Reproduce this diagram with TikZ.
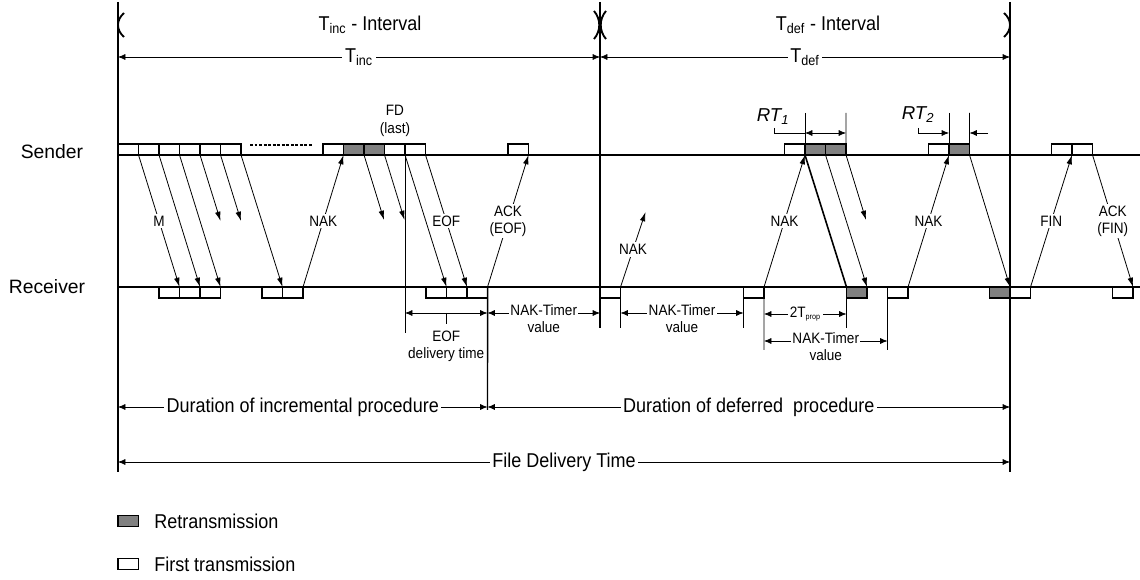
\documentclass[tikz,border=0pt]{standalone}
\usepackage{fontspec}
\setmainfont{Liberation Sans}
\newfontfamily\narrowsans{Liberation Sans}[FakeStretch=0.9]
\usetikzlibrary{arrows.meta,calc}
\definecolor{rtgray}{RGB}{128,128,128}
\begin{document}
\begin{tikzpicture}[x=0.75pt,y=-0.75pt,
  pkt/.style={draw,line width=0.9pt,minimum width=15.4pt,minimum height=8.2pt,inner sep=0pt,outer sep=0pt,fill=white},
  rpkt/.style={pkt,fill=rtgray},
  msg/.style={line width=0.6pt,-{Latex[length=7pt,width=4.2pt]}},
  lbl/.style={font=\narrowsans\fontsize{11.3}{13}\selectfont,fill=white,inner sep=1.5pt,align=center},
  big/.style={font=\narrowsans\fontsize{15}{17}\selectfont},
  side/.style={font=\fontsize{14.5}{17}\selectfont},
  dim/.style={line width=0.5pt,{Latex[length=5.5pt,width=4.5pt]}-{Latex[length=5.5pt,width=4.5pt]}},
  dimr/.style={line width=0.5pt,-{Latex[length=5.5pt,width=4.5pt]}},
  ext/.style={line width=0.6pt},
  axis/.style={line width=1.1pt},
  paren/.style={line width=1.4pt},
]
\useasboundingbox (0,0) rectangle (1140,580);

% ---------- main vertical and horizontal lines ----------
\coordinate (vLt) at (118,2);   \coordinate (vLb) at (118,472);
\coordinate (vMt) at (600,2);   \coordinate (vMb) at (600,328);
\coordinate (vRt) at (1010,2);  \coordinate (vRb) at (1010,472);
\coordinate (slA) at (118,155); \coordinate (slB) at (1140,155);
\coordinate (rlA) at (118,287); \coordinate (rlB) at (1140,287);
\draw[axis] (vLt) -- (vLb);
\draw[axis] (vMt) -- (vMb);
\draw[axis] (vRt) -- (vRb);
\draw[axis] (slA) -- (slB);
\draw[axis] (rlA) -- (rlB);

\node[side] (sender) at (52,152) {Sender};
\node[side] (receiver) at (47,287) {Receiver};

% ---------- parentheses and interval labels ----------
\draw[paren] (124,13) .. controls (116,20) and (116,30) .. (124,37);
\draw[paren] (594,11) .. controls (601,19) and (601,31) .. (594,39);
\draw[paren] (606,11) .. controls (599,19) and (599,31) .. (606,39);
\draw[paren] (1004,13) .. controls (1012,20) and (1012,30) .. (1004,37);
\node[big] (tincint) at (370,25) {T\textsubscript{inc} - Interval};
\node[big] (tdefint) at (828,25) {T\textsubscript{def} - Interval};

\coordinate (tia) at (118,57); \coordinate (tib) at (600,57); \coordinate (tdb) at (1010,57);
\draw[dim] (tia) -- node[big,fill=white,inner sep=2pt] (tinc) {T\textsubscript{inc}} (tib);
\draw[dim] (tib) -- node[big,fill=white,inner sep=2pt] (tdef) {T\textsubscript{def}} (tdb);

% ---------- sender packets ----------
\node[pkt,anchor=south west] (sA1) at (118,155) {};
\node[pkt,anchor=south west] (sA2) at (138.5,155) {};
\node[pkt,anchor=south west] (sA3) at (159,155) {};
\node[pkt,anchor=south west] (sA4) at (179.5,155) {};
\node[pkt,anchor=south west] (sA5) at (200,155) {};
\node[pkt,anchor=south west] (sA6) at (220.5,155) {};
\coordinate (dotA) at (250,145); \coordinate (dotB) at (313,145);
\draw[line width=1.6pt,dash pattern=on 2.2pt off 1.2pt] (dotA) -- (dotB);
\node[pkt,anchor=south west] (sB1) at (323,155) {};
\node[rpkt,anchor=south west] (sB2) at (343.5,155) {};
\node[rpkt,anchor=south west] (sB3) at (364,155) {};
\node[pkt,anchor=south west] (sB4) at (384.5,155) {};
\node[pkt,anchor=south west] (sB5) at (405,155) {};
\node[pkt,anchor=south west] (sC) at (508,155) {};
\node[pkt,anchor=south west] (sD1) at (784.5,155) {};
\node[rpkt,anchor=south west] (sD2) at (805,155) {};
\node[rpkt,anchor=south west] (sD3) at (825.5,155) {};
\node[pkt,anchor=south west] (sE1) at (928.5,155) {};
\node[rpkt,anchor=south west] (sE2) at (949,155) {};
\node[pkt,anchor=south west] (sF1) at (1051.5,155) {};
\node[pkt,anchor=south west] (sF2) at (1072,155) {};
\node[lbl,fill=none] (fd) at (395,121) {FD\\(last)};

% ---------- receiver packets ----------
\node[pkt,anchor=north west] (rA1) at (159,287) {};
\node[pkt,anchor=north west] (rA2) at (179.5,287) {};
\node[pkt,anchor=north west] (rA3) at (200,287) {};
\node[pkt,anchor=north west] (rB1) at (262,287) {};
\node[pkt,anchor=north west] (rB2) at (282.5,287) {};
\node[pkt,anchor=north west] (rC1) at (426,287) {};
\node[pkt,anchor=north west] (rC2) at (446.5,287) {};
\node[pkt,anchor=north west] (rC3) at (467,287) {};
\node[pkt,anchor=north west] (rD) at (600,287) {};
\node[pkt,anchor=north west] (rE) at (743.5,287) {};
\node[rpkt,anchor=north west] (rF) at (846.5,287) {};
\node[pkt,anchor=north west] (rG) at (887.5,287) {};
\node[rpkt,anchor=north west] (rH) at (989.5,287) {};
\node[pkt,anchor=north west] (rI) at (1010,287) {};
\node[pkt,anchor=north west] (rJ) at (1112.5,287) {};

% ---------- messages ----------
\draw[msg] (sA1.south east) -- node[lbl] (m) {M} (rA1.north east);
\draw[msg] (sA2.south east) -- (rA2.north east);
\draw[msg] (sA3.south east) -- (rA3.north east);
\coordinate (lA4) at ($(sA4.south east)+(20.5,66)$);
\coordinate (lA5) at ($(sA5.south east)+(20.5,66)$);
\draw[msg] (sA4.south east) -- (lA4);
\draw[msg] (sA5.south east) -- (lA5);
\draw[msg] (sA6.south east) -- (rB1.north east);
\draw[msg] (rB2.north east) -- node[lbl] (nak1) {NAK} (sB2.south west);
\coordinate (lB2) at ($(sB2.south east)+(20,65)$);
\coordinate (lB3) at ($(sB3.south east)+(20,65)$);
\draw[msg] (sB2.south east) -- (lB2);
\draw[msg] (sB3.south east) -- (lB3);
\draw[msg] (sB4.south east) -- (rC1.north east);
\draw[msg] (sB5.south east) -- node[lbl] (eof) {EOF} (rC2.north east);
\draw[msg] (rC3.north east) -- node[lbl] (ackeof) {ACK\\(EOF)} (sC.south east);
\coordinate (lD) at ($(rD.north east)+(25,-75)$);
\draw[msg] (rD.north east) -- node[lbl] (nak2) {NAK} (lD);
\draw[msg] (rE.north east) -- node[lbl] (nak3) {NAK} (sD2.south west);
\draw[line width=1.2pt] (sD2.south west) -- (rF.north west);
\draw[msg] (sD2.south east) -- (rF.north east);
\coordinate (lD3) at ($(sD3.south east)+(20,65)$);
\draw[msg] (sD3.south east) -- (lD3);
\draw[msg] (rG.north east) -- node[lbl] (nak4) {NAK} (sE2.south west);
\draw[msg] (sE2.south east) -- (rH.north east);
\draw[msg] (rI.north east) -- node[lbl] (fin) {FIN} (sF2.south west);
\draw[msg] (sF2.south east) -- node[lbl] (ackfin) {ACK\\(FIN)} (rJ.north east);

% ---------- RT annotations ----------
\node[font=\fontsize{14}{16}\selectfont\itshape] (rt1) at (773,117) {RT\textsubscript{1}};
\node[font=\fontsize{14}{16}\selectfont\itshape] (rt2) at (918,115) {RT\textsubscript{2}};
\coordinate (rt1e1) at (805,113); \coordinate (rt1e2) at (846,113);
\coordinate (rt2e1) at (949,113); \coordinate (rt2e2) at (969.5,113);
\draw[ext] (rt1e1) -- (sD2.north west);
\draw[ext] (rt1e2) -- (sD3.north east);
\draw[ext] (rt2e1) -- (sE2.north west);
\draw[ext] (rt2e2) -- (sE2.north east);
\coordinate (rt1a) at (805,133); \coordinate (rt1b) at (846,133);
\coordinate (rt1l) at (774,128); \coordinate (rt1c) at (774,133);
\draw[ext] (rt1l) -- (rt1c) -- (rt1a);
\draw[dim] (rt1a) -- (rt1b);
\coordinate (rt2l) at (918,128); \coordinate (rt2c) at (918,133);
\coordinate (rt2a) at (949,133); \coordinate (rt2b) at (969.5,133); \coordinate (rt2r) at (988,133);
\draw[dimr] (rt2l) -- (rt2c) -- (rt2a);
\draw[dimr] (rt2r) -- (rt2b);

% ---------- timing dimensions below receiver ----------
\coordinate (v405t) at (405,144); \coordinate (v405b) at (405,333);
\draw[ext] (v405t) -- (v405b);
\coordinate (v487b) at (487.5,410);
\draw[axis] (rC3.north east) -- (v487b);
\coordinate (v620b) at (620.5,328); \draw[ext] (rD.south east) -- (v620b);
\coordinate (v743b) at (743.5,328); \draw[ext] (rE.south west) -- (v743b);
\coordinate (v764b) at (764,350);   \draw[ext] (rE.south east) -- (v764b);
\coordinate (v846b) at (846.5,328); \draw[ext] (rF.south west) -- (v846b);
\coordinate (v887b) at (887.5,350); \draw[ext] (rG.south west) -- (v887b);

\coordinate (eofa) at (405,313); \coordinate (eofb) at (487.5,313);
\draw[dim] (eofa) -- coordinate (eofm) (eofb);
\coordinate (eoft) at ($(eofm)+(0,11)$);
\draw[ext] (eofm) -- (eoft);
\node[lbl,fill=none,anchor=north,inner sep=1pt] (eofdt) at ($(eoft)+(0,5)$) {EOF\\delivery time};

\coordinate (nt1a) at (487.5,313); \coordinate (nt1b) at (600,313);
\draw[dim] (nt1a) -- node[lbl,anchor=north,yshift=7.5pt,inner sep=1pt] (nt1) {NAK-Timer\\value} (nt1b);
\coordinate (nt2a) at (620.5,313); \coordinate (nt2b) at (743.5,313);
\draw[dim] (nt2a) -- node[lbl,anchor=north,yshift=7.5pt,inner sep=1pt] (nt2) {NAK-Timer\\value} (nt2b);
\coordinate (tpa) at (764,314); \coordinate (tpb) at (846.5,314);
\draw[dim] (tpa) -- node[lbl] (tprop) {2T\textsubscript{\fontsize{6}{7}\selectfont prop}} (tpb);
\coordinate (nt3a) at (764,341); \coordinate (nt3b) at (887.5,341);
\draw[dim] (nt3a) -- node[lbl,anchor=north,yshift=7.5pt,inner sep=1pt] (nt3) {NAK-Timer\\value} (nt3b);

% ---------- durations ----------
\coordinate (dia) at (118,407); \coordinate (dib) at (487.5,407); \coordinate (ddb) at (1010,407);
\draw[dim] (dia) -- node[big,fill=white,inner sep=2pt] (durinc) {Duration of incremental procedure} (dib);
\draw[dim] (dib) -- node[big,fill=white,inner sep=2pt] (durdef) {Duration of deferred\ \ procedure} (ddb);
\coordinate (fda) at (118,462); \coordinate (fdb) at (1010,462);
\draw[dim] (fda) -- node[big,fill=white,inner sep=2pt] (fdt) {File Delivery Time} (fdb);

% ---------- legend ----------
\node[rpkt,anchor=west] (legR) at (118,521) {};
\node[big,anchor=west,inner sep=0pt] (legRt) at (154,521) {Retransmission};
\node[pkt,anchor=west] (legF) at (118,564) {};
\node[big,anchor=west,inner sep=0pt] (legFt) at (154,564) {First transmission};
\end{tikzpicture}
\end{document}
